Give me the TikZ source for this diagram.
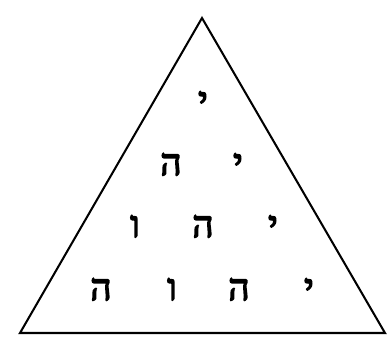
\documentclass[tikz,border=0pt]{standalone}
\usepackage{fontspec}
\usepackage{tikz}
\TeXXeTstate=1
\newfontfamily\hebfont[Script=Hebrew, FakeBold=4]{Liberation Serif}

\tikzset{
  letter/.style={anchor=base, inner sep=0pt, font=\hebfont\fontsize{27}{27}\selectfont}
}

\begin{document}
\begin{tikzpicture}[x=0.02577cm, y=-0.02577cm]
    \useasboundingbox (0,0) rectangle (388,337);
    % Draw the triangle
    \coordinate (apex) at (202,18);
    \coordinate (left) at (20,333);
    \coordinate (right) at (385,333);
    \draw[line width=1.5pt, line join=miter] (apex) -- (left) -- (right) -- cycle;
    % first row
    \node[letter] (y1) at (203,113) {\beginR י\endR};
    % second row
    \node[letter] (h2) at (171,175) {\beginR ה\endR};
    \node[letter] (y2) at (238,175) {\beginR י\endR};
    % third row
    \node[letter] (v3) at (135,237) {\beginR ו\endR};
    \node[letter] (h3) at (203,237) {\beginR ה\endR};
    \node[letter] (y3) at (273,237) {\beginR י\endR};
    % fourth row
    \node[letter] (h4a) at (101,300) {\beginR ה\endR};
    \node[letter] (v4) at (172,300) {\beginR ו\endR};
    \node[letter] (h4b) at (239,300) {\beginR ה\endR};
    \node[letter] (y4) at (309,300) {\beginR י\endR};
\end{tikzpicture}
\end{document}
